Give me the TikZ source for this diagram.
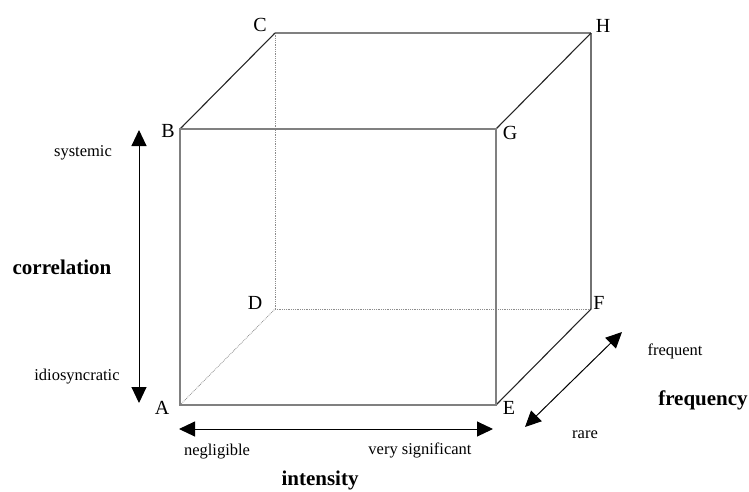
\documentclass[tikz,border=0pt]{standalone}
\usepackage{fontspec}
\setmainfont{Liberation Serif}
\usetikzlibrary{arrows.meta}

\begin{document}
\begin{tikzpicture}[
  x=1pt, y=-1pt,
  corner/.style={font=\fontsize{20}{20}\selectfont, inner sep=0pt},
  tick/.style={font=\fontsize{16.5}{16.5}\selectfont, inner sep=0pt},
  axis/.style={font=\fontsize{21}{21}\selectfont\bfseries, inner sep=0pt},
  front/.style={draw=black!50, line width=1.5pt},
  side/.style={draw=black!85, line width=1.1pt},
  hidden/.style={draw=black!45, densely dotted, line width=0.8pt},
  arr/.style={{Triangle[length=16pt,width=15pt]}-{Triangle[length=16pt,width=15pt]}, line width=1pt}
]
  \useasboundingbox (0,0) rectangle (749,491);

  % cube corners
  \coordinate (A) at (180,405);
  \coordinate (B) at (180,129);
  \coordinate (C) at (275,33);
  \coordinate (D) at (275,309);
  \coordinate (E) at (496,405);
  \coordinate (F) at (591,309);
  \coordinate (G) at (496,129);
  \coordinate (H) at (591,33);

  \node[corner] (lA) at (162,408) {A};
  \node[corner] (lB) at (168,131) {B};
  \node[corner] (lC) at (260,25)  {C};
  \node[corner] (lD) at (255,303) {D};
  \node[corner] (lE) at (509,408) {E};
  \node[corner] (lF) at (599,303) {F};
  \node[corner] (lG) at (510,133) {G};
  \node[corner] (lH) at (603,26)  {H};

  % hidden edges
  \draw[hidden] (A) -- (D);
  \draw[hidden] (D) -- (C);
  \draw[hidden] (D) -- (F);

  \draw[front] (C) -- (H);
  \draw[side] (B) -- (C);
  \draw[side] (G) -- (H);
  \draw[side] (H) -- (F) -- (E);
  \draw[front] (A) -- (B) -- (G) -- (E) -- cycle;

  % axes
  \coordinate (corrTop) at (139,130);
  \coordinate (corrBot) at (139,403);
  \coordinate (intL) at (179,429);
  \coordinate (intR) at (493,429);
  \coordinate (freqLo) at (525,427);
  \coordinate (freqHi) at (622,332);

  \draw[arr] (corrBot) -- (corrTop);
  \draw[arr] (intL) -- (intR);
  \draw[arr] (freqLo) -- (freqHi);

  \node[tick] (sys)  at (83,153)  {systemic};
  \node[tick] (idio) at (77,377)  {idiosyncratic};
  \node[axis] (corr) at (62,267)  {correlation};

  \node[tick] (negl) at (217,452) {negligible};
  \node[tick] (vsig) at (420,450) {very significant};
  \node[axis] (inten) at (320,480) {intensity};

  \node[tick] (freq) at (675,351) {frequent};
  \node[tick] (rare) at (585,435) {rare};
  \node[axis] (freqax) at (703,400) {frequency};
\end{tikzpicture}
\end{document}
